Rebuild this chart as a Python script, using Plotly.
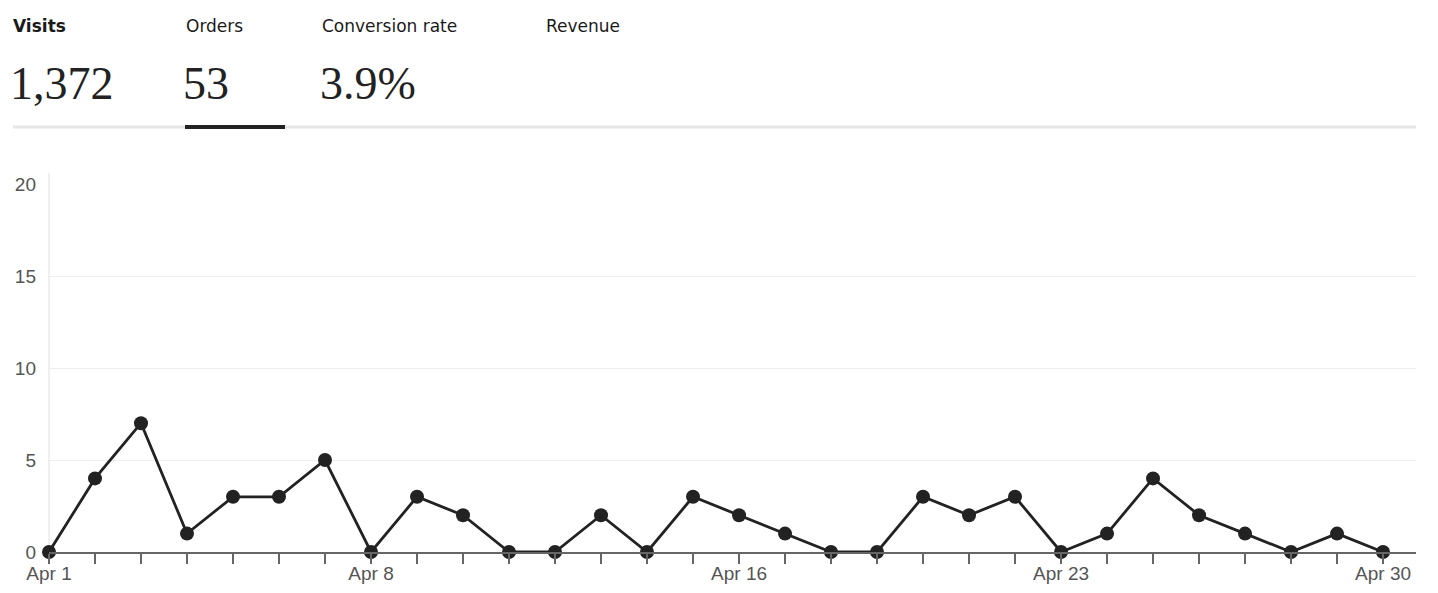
import plotly.graph_objects as go
import pandas as pd

# ---- data ----
dates = pd.date_range("2024-04-01", "2024-04-30", freq="D")
orders = [0, 4, 7, 1, 3, 3, 5, 0, 3, 2, 0, 0, 2, 0, 3, 2, 1, 0, 0, 3, 2, 3, 0, 1, 4, 2, 1, 0, 1, 0]
labeled_days = [1, 8, 16, 23, 30]
tick_text = [f"Apr {d.day}" if d.day in labeled_days else "" for d in dates]

metric_labels = ["Visits", "Orders", "Conversion rate", "Revenue"]
metric_values = ["1,372", "53", "3.9%", ""]
y_ticks = [0, 5, 10, 15, 20]

W, H = 1438, 593
L, R, T, B = 49, 22, 184, 41
PW, PH = W - L - R, H - T - B


def px(x):
    return (x - L) / PW


def py(y):
    return (H - B - y) / PH


fig = go.Figure()
fig.add_trace(go.Scatter(
    x=dates, y=orders, mode="lines+markers",
    line=dict(color="#222222", width=2.8),
    marker=dict(color="#222222", size=14),
    cliponaxis=False, hoverinfo="x+y", showlegend=False,
))

label_x = [11, 184, 320, 544]
value_x = [8, 181, 318, 543]
for lab, val, lx, vx in zip(metric_labels, metric_values, label_x, value_x):
    fig.add_annotation(
        text=lab, xref="paper", yref="paper", x=px(lx), y=py(25.5),
        xanchor="left", yanchor="middle", showarrow=False,
        font=dict(family="DejaVu Sans, Liberation Sans", size=17, color="#1a1a1a",
                  weight=600 if lab == "Visits" else 400),
    )
    if val:
        fig.add_annotation(
            text=val, xref="paper", yref="paper", x=px(vx), y=py(83.5),
            xanchor="left", yanchor="middle", showarrow=False,
            font=dict(family="Liberation Serif, serif", size=46, color="#222222"),
        )

# tab separator line and active underline
fig.add_shape(type="line", xref="paper", yref="paper",
              x0=px(13), x1=px(1416), y0=py(127), y1=py(127),
              line=dict(color="#e6e6e6", width=3))
fig.add_shape(type="line", xref="paper", yref="paper",
              x0=px(185), x1=px(285), y0=py(127), y1=py(127),
              line=dict(color="#222222", width=4))
# light y-axis line
fig.add_shape(type="line", xref="paper", yref="paper",
              x0=0, x1=0, y0=0, y1=py(173),
              line=dict(color="#ebebeb", width=1.5), layer="below")

x_end = dates[-1] + pd.Timedelta(hours=17.2)

fig.update_layout(
    width=W, height=H,
    margin=dict(l=L, r=R, t=T, b=B),
    paper_bgcolor="white", plot_bgcolor="white",
    font=dict(family="Liberation Sans, Arial", size=19, color="#555555"),
    xaxis=dict(
        range=[dates[0], x_end],
        tickmode="array", tickvals=list(dates), ticktext=tick_text,
        ticks="outside", ticklen=10, tickcolor="#666666", tickwidth=1.5,
        showline=True, linecolor="#666666", linewidth=1.5,
        showgrid=False, zeroline=False, automargin=False,
        ticklabeloverflow="allow", ticklabelstandoff=-7,
        tickfont=dict(size=19, color="#555555"),
        fixedrange=True,
    ),
    yaxis=dict(
        range=[0, 20], tickvals=y_ticks,
        showgrid=True, gridcolor="#eeeeee", gridwidth=1,
        zeroline=False, showline=False, automargin=False,
        ticks="", ticklabelstandoff=12,
        tickfont=dict(size=19, color="#555555"),
        fixedrange=True,
    ),
)

fig.write_html(
    "out.html",
    config={"displayModeBar": False},
    post_script="document.body.style.margin='0';document.body.style.overflow='hidden';",
)
